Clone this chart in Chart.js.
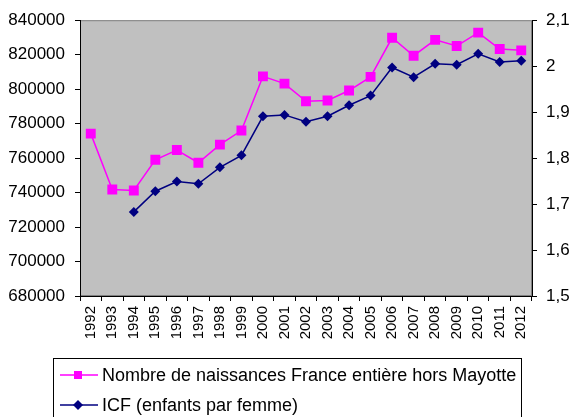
<!DOCTYPE html>
<html>
<head>
<meta charset="utf-8">
<script src="https://cdn.jsdelivr.net/npm/chart.js@4.4.1/dist/chart.umd.min.js"></script>
<style>
  html, body { margin: 0; padding: 0; background: #fff; }
</style>
</head>
<body>
<canvas id="chart" width="574" height="417"></canvas>
<script>
// valeurs
const years = ['1992', '1993', '1994', '1995', '1996', '1997', '1998', '1999', '2000', '2001', '2002',
  '2003', '2004', '2005', '2006', '2007', '2008', '2009', '2010', '2011', '2012'];
const births = [774200, 741800, 741200, 759000, 764700, 757300, 767800, 776000, 807400, 803200, 793000,
  793400, 799200, 807100, 829800, 819400, 828600, 825000, 832800, 823300, 822500];
const icf = [null, null, 1.683, 1.728, 1.749, 1.744, 1.780, 1.806, 1.891, 1.894, 1.879,
  1.891, 1.915, 1.936, 1.997, 1.976, 2.005, 2.003, 2.027, 2.009, 2.012];
const birthsLabel = 'Nombre de naissances France entière hors Mayotte';
const icfLabel = 'ICF (enfants par femme)';

const FONT = 'Liberation Sans, Arial, Helvetica, sans-serif';

// fond gris de la zone de tracé
const plotBg = {
  id: 'plotBg',
  beforeDraw(chart) {
    const { ctx, chartArea: a } = chart;
    ctx.save();
    ctx.fillStyle = '#c0c0c0';
    ctx.fillRect(a.left, a.top, a.right - a.left, a.bottom - a.top);
    ctx.strokeStyle = '#808080';
    ctx.lineWidth = 1;
    ctx.strokeRect(a.left + 0.5, a.top + 0.5, a.right - a.left - 1, a.bottom - a.top - 1);
    ctx.restore();
  }
};

// légende encadrée, façon tableur
const boxLegend = {
  id: 'boxLegend',
  afterDraw(chart) {
    const ctx = chart.ctx;
    ctx.save();
    ctx.strokeStyle = '#000';
    ctx.lineWidth = 1;
    ctx.strokeRect(53.5, 358.5, 468, 80);
    ctx.font = '18px ' + FONT;
    ctx.textBaseline = 'middle';
    chart.data.datasets.forEach((ds, i) => {
      const y = 375 + i * 30;
      ctx.strokeStyle = ds.borderColor;
      ctx.lineWidth = 1.5;
      ctx.beginPath();
      ctx.moveTo(60, y);
      ctx.lineTo(98, y);
      ctx.stroke();
      ctx.fillStyle = ds.backgroundColor;
      ctx.beginPath();
      if (ds.pointStyle === 'rect') {
        ctx.rect(78 - 4, y - 4, 8, 8);
      } else {
        ctx.moveTo(78, y - 5);
        ctx.lineTo(83, y);
        ctx.lineTo(78, y + 5);
        ctx.lineTo(73, y);
        ctx.closePath();
      }
      ctx.fill();
      ctx.fillStyle = '#000';
      ctx.fillText(ds.label, 102, y + 1);
    });
    ctx.restore();
  }
};

new Chart(document.getElementById('chart'), {
  type: 'line',
  data: {
    labels: years,
    datasets: [{
      label: birthsLabel,
      data: births,
      yAxisID: 'y',
      borderColor: '#ff00ff',
      backgroundColor: '#ff00ff',
      borderWidth: 1.5,
      pointStyle: 'rect',
      pointRadius: 7,
      pointBorderWidth: 0,
      tension: 0
    }, {
      label: icfLabel,
      data: icf,
      yAxisID: 'y1',
      borderColor: '#000080',
      backgroundColor: '#000080',
      borderWidth: 1.5,
      pointStyle: 'rectRot',
      pointRadius: 5,
      pointBorderWidth: 0,
      tension: 0
    }]
  },
  options: {
    responsive: false,
    animation: false,
    layout: { padding: { top: 19, left: 0, right: 0, bottom: 0 } },
    plugins: {
      legend: { display: false },
      tooltip: { enabled: false }
    },
    scales: {
      x: {
        offset: true,
        grid: { offset: true, drawOnChartArea: false, tickLength: 5, color: '#000' },
        border: { color: '#000' },
        ticks: { minRotation: 90, maxRotation: 90, autoSkip: false, color: '#000', padding: 5,
          font: { family: FONT, size: 15 } },
        afterFit: s => { s.height = 121; }
      },
      y: {
        position: 'left',
        min: 680000,
        max: 840000,
        grid: { drawOnChartArea: false, tickLength: 5, color: '#000' },
        border: { color: '#000' },
        ticks: { stepSize: 20000, color: '#000', padding: 10, font: { family: FONT, size: 17 },
          callback: v => String(v) },
        afterFit: s => { s.width = 80; }
      },
      y1: {
        position: 'right',
        min: 1.5,
        max: 2.1,
        grid: { drawOnChartArea: false, tickLength: 5, color: '#000' },
        border: { color: '#000' },
        ticks: { stepSize: 0.1, color: '#000', padding: 9, font: { family: FONT, size: 17 },
          callback: v => String(Math.round(v * 10) / 10).replace('.', ',') },
        afterFit: s => { s.width = 42; }
      }
    }
  },
  plugins: [plotBg, boxLegend]
});
</script>
</body>
</html>
